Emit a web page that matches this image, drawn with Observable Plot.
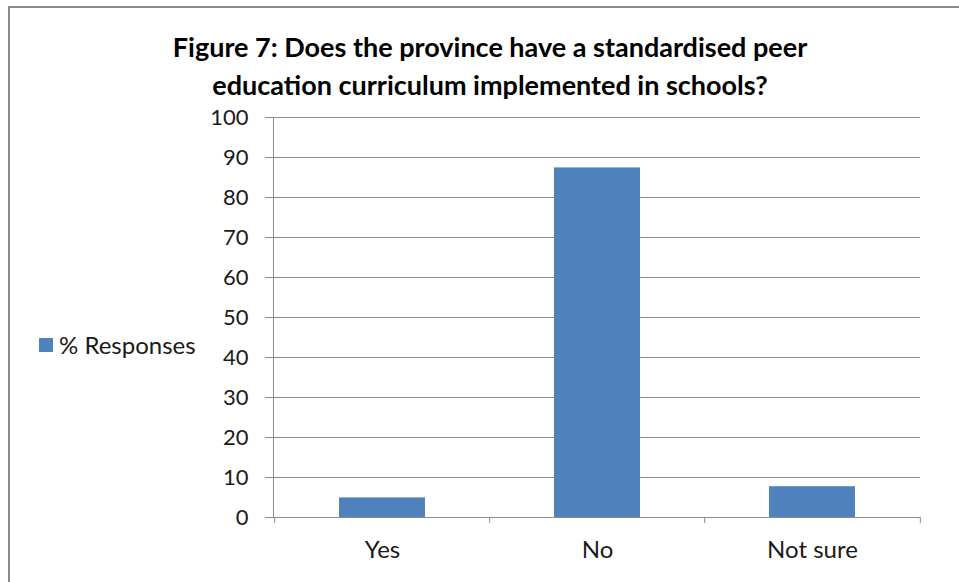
<!DOCTYPE html>
<html>
<head>
<meta charset="utf-8">
<script src="https://cdn.jsdelivr.net/npm/d3@7"></script>
<script src="https://cdn.jsdelivr.net/npm/@observablehq/plot@0.6"></script>
<style>
  html, body { margin: 0; padding: 0; background: #fff; }
  #wrap { position: relative; width: 959px; height: 582px; overflow: hidden; background: #fff; font-family: Lato, "Open Sans", sans-serif; }
  #frame { position: absolute; left: 8px; top: 6px; width: 1000px; height: 700px; border-top: 2px solid #8a8a8a; border-left: 2px solid #8a8a8a; box-sizing: border-box; }
  #title { position: absolute; left: 0; top: 28px; width: 980px; text-align: center; font-weight: bold; font-size: 27px; line-height: 38px; color: #000; }
  #legend { position: absolute; left: 39px; top: 330px; font-size: 24px; color: #1a1a1a; display: flex; align-items: center; }
  #legend .sw { width: 14px; height: 14px; background: #4F81BD; margin-right: 6px; }
  #chart { position: absolute; left: 0; top: 0; }
</style>
</head>
<body>
<div id="wrap">
  <div id="frame"></div>
  <div id="chart"></div>
  <div id="title">Figure 7: Does the province have a standardised peer<br>education curriculum implemented in schools?</div>
  <div id="legend"><span class="sw"></span><span id="legendLabel"></span></div>
</div>
<script>
const categories = ["Yes", "No", "Not sure"];
const responses = [4.9, 87.4, 7.7];
const yTicks = [0, 10, 20, 30, 40, 50, 60, 70, 80, 90, 100];
const seriesName = "% Responses";

document.getElementById("legendLabel").textContent = seriesName;

const data = categories.map((c, i) => ({category: c, value: responses[i]}));

const W = 959, H = 582;
const mL = 273, mR = 39, mT = 117, mB = 65;
const step = (W - mL - mR) / categories.length;

const chart = Plot.plot({
  width: W,
  height: H,
  marginLeft: mL,
  marginRight: mR,
  marginTop: mT,
  marginBottom: mB,
  style: {fontFamily: "Lato, 'Open Sans', sans-serif", fontSize: "22px", color: "#1a1a1a", background: "transparent"},
  x: {domain: categories, paddingInner: 0.6, paddingOuter: 0.3, label: null},
  y: {domain: [0, 100], label: null},
  marks: [
    Plot.gridY(yTicks, {stroke: "#8c8c8c", strokeOpacity: 1, strokeWidth: 1}),
    Plot.axisY(yTicks, {tickSize: 8, tickPadding: 17, stroke: "#8c8c8c", strokeOpacity: 1, fontSize: 22, fill: "#1a1a1a", label: null}),
    Plot.frame({anchor: "left", stroke: "#8c8c8c", strokeWidth: 1}),
    Plot.ruleX(categories, {x: d => d, dx: -step / 2, y1: 0, y2: -1.5, stroke: "#8c8c8c"}),
    Plot.ruleX([categories[categories.length - 1]], {x: d => d, dx: step / 2, y1: 0, y2: -1.5, stroke: "#8c8c8c"}),
    Plot.barY(data, {x: "category", y: "value", fill: "#4F81BD"}),
    Plot.axisX({tickSize: 0, tickPadding: 23, fontSize: 24, fill: "#1a1a1a", label: null})
  ]
});
document.getElementById("chart").appendChild(chart);
</script>
</body>
</html>
